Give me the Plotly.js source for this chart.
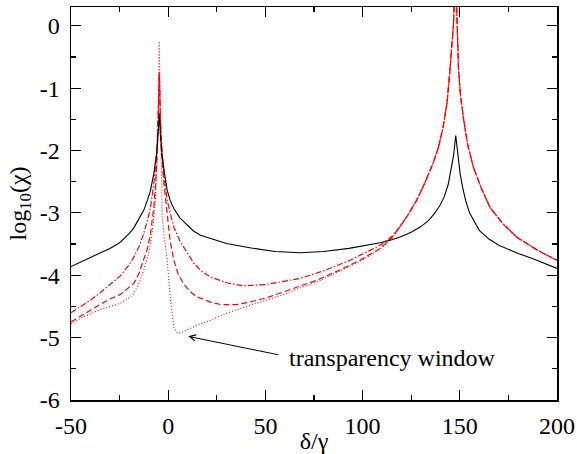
<!DOCTYPE html>
<html>
<head>
<meta charset="utf-8">
<script src="https://cdn.plot.ly/plotly-3.0.1.min.js"></script>
<style>html,body{margin:0;padding:0;background:#fff;}#chart{width:577px;height:454px;}</style>
</head>
<body>
<div id="chart"></div>
<script>
// Black solid curve
var blackX = [-50,-45,-40,-35,-30,-25,-20,-17.7,-15,-12.6,-10.5,-9.1,-7.4,-6,-5.2,-4.6,-4,-3.2,-2,-0.5,1,2.9,6,9.8,13,16.6,21.8,30,42,55,68,80,93,100,109,115,120,125,130,134,137,140,142,144,145.5,146.8,147.9,149,150.2,151.5,153,155,160,165,170,180,188,200];
var blackY = [-3.86,-3.79,-3.72,-3.65,-3.57,-3.48,-3.33,-3.24,-3.1,-2.96,-2.78,-2.64,-2.37,-2.05,-1.75,-1.41,-1.75,-2.05,-2.35,-2.64,-2.8,-2.93,-3.08,-3.2,-3.29,-3.36,-3.41,-3.49,-3.56,-3.62,-3.64,-3.62,-3.57,-3.53,-3.48,-3.43,-3.38,-3.31,-3.22,-3.12,-3.01,-2.87,-2.74,-2.55,-2.32,-2.08,-1.76,-2.08,-2.38,-2.6,-2.8,-3.0,-3.28,-3.42,-3.52,-3.65,-3.74,-3.89];

// Shared tail of the three red curves (second resonance)
var redTailX = [119,123,127.8,132,136.2,139,141.4,143.5,145,146,146.7,147.2,147.8,148.3,148.8,149.3,150.3,151.8,154,157,161,165.5,172,179.3,190,200];
var redTailY = [-3.23,-3.05,-2.8,-2.52,-2.21,-1.95,-1.63,-1.22,-0.7,-0.35,0.0,0.4,0.9,0.4,-0.15,-0.67,-1.1,-1.47,-1.9,-2.27,-2.6,-2.91,-3.17,-3.39,-3.6,-3.76];

// Red dash-dot curve
var dashDotX = [-50,-45,-40,-35,-30,-24.6,-20,-17.7,-15,-12.6,-10.5,-9.1,-7.4,-6,-5.2,-4.6,-4,-3,-1.8,-0.5,1,2.9,6,9.8,13,16.6,21.8,30,38.6,50,60,68,80,93.5,100,109,115];
var dashDotY = [-4.6,-4.5,-4.4,-4.28,-4.15,-4.01,-3.83,-3.71,-3.54,-3.33,-3.1,-2.91,-2.53,-2.1,-1.5,-0.76,-1.5,-2.1,-2.5,-2.8,-3.0,-3.23,-3.45,-3.65,-3.8,-3.92,-4.03,-4.12,-4.17,-4.15,-4.1,-4.05,-3.93,-3.76,-3.66,-3.52,-3.38];

// Red dashed curve
var dashedX = [-50,-45,-40,-35,-30,-24.6,-20,-17.7,-15,-12.6,-10.5,-9.1,-7.4,-6.4,-5.6,-5.1,-4.6,-4.1,-3.6,-2.2,-0.5,1,2.9,5,8.1,12,15,21.8,27,35,42,50.7,60,68,76.4,88,98.6,104,109,115];
var dashedY = [-4.75,-4.65,-4.56,-4.47,-4.38,-4.31,-4.2,-4.13,-3.97,-3.76,-3.55,-3.33,-2.91,-2.5,-2.0,-1.4,-0.75,-1.4,-2.0,-2.53,-3.07,-3.45,-3.76,-3.97,-4.15,-4.28,-4.35,-4.43,-4.47,-4.47,-4.43,-4.36,-4.26,-4.17,-4.08,-3.92,-3.76,-3.66,-3.57,-3.4];

// Red dotted curve
var dottedX = [-50,-45,-40,-35,-30,-24.6,-20,-17.7,-15,-12.6,-10.5,-9.1,-7.8,-6.6,-5.8,-5.2,-4.6,-4.0,-3.1,-1.8,-0.5,1.2,2.9,4.2,5.5,8,12,16.6,21.8,30,42,50.7,60,68,76.4,88,98.6,105,109,115];
var dottedY = [-4.78,-4.69,-4.62,-4.55,-4.5,-4.45,-4.36,-4.29,-4.13,-3.92,-3.7,-3.49,-3.2,-2.8,-2.2,-1.5,-0.25,-1.7,-3.07,-3.45,-3.76,-4.4,-4.83,-4.91,-4.93,-4.9,-4.84,-4.78,-4.72,-4.61,-4.48,-4.4,-4.3,-4.2,-4.11,-3.94,-3.78,-3.66,-3.58,-3.42];

// Tick labels
var xTickVals = [-50,0,50,100,150,200];
var xTickText = ['-50','0','50','100','150','200'];
var yTickVals = [0,-1,-2,-3,-4,-5,-6];
var yTickText = ['0','-1','-2','-3','-4','-5','-6'];

// Annotation
var annotText = 'transparency window';
var annotPoint = [10.3, -4.98];
var annotTail = [57.5, -5.28];
var annotTextPos = [61, -5.33];

var serif = 'Liberation Serif, Times New Roman, serif';

var traces = [
  {x: dottedX.concat(redTailX), y: dottedY.concat(redTailY), mode:'lines',
   line:{color:'#ff0000', width:1.1, dash:'1px,2px'}},
  {x: dashedX.concat(redTailX), y: dashedY.concat(redTailY), mode:'lines',
   line:{color:'#ff0000', width:1.2, dash:'6px,3px'}},
  {x: dashDotX.concat(redTailX), y: dashDotY.concat(redTailY), mode:'lines',
   line:{color:'#ff0000', width:1.2, dash:'6px,2px,1.5px,2px'}},
  {x: blackX, y: blackY, mode:'lines', line:{color:'#000000', width:1.1}}
];

var axisCommon = {
  showgrid:false, zeroline:false, showline:true, linecolor:'#000', linewidth:1.5,
  mirror:'ticks', ticks:'inside', ticklen:10, tickwidth:1.2, tickcolor:'#000',
  tickfont:{family:serif, size:24, color:'#000'}, tickmode:'array'
};

var layout = {
  width:577, height:454,
  margin:{l:71, r:20, t:7, b:54},
  paper_bgcolor:'#fff', plot_bgcolor:'#fff',
  showlegend:false,
  xaxis: Object.assign({}, axisCommon, {
    range:[-50,200], tickvals:xTickVals, ticktext:xTickText,
    ticklabelstandoff:4,
    minor:{ticks:'inside', ticklen:5, tickwidth:1.2, tickcolor:'#000', dtick:25, tick0:-50, showgrid:false},
    title:{text:'δ/γ', font:{family:serif, size:24, color:'#000'}, standoff:2}
  }),
  yaxis: Object.assign({}, axisCommon, {
    range:[-6,0.3], tickvals:yTickVals, ticktext:yTickText,
    ticklabelstandoff:5,
    minor:{ticks:'inside', ticklen:5, tickwidth:1.2, tickcolor:'#000', dtick:0.5, tick0:0, showgrid:false},
    title:{text:'log<sub>10</sub>(χ)', font:{family:serif, size:24, color:'#000'}, standoff:6}
  }),
  annotations:[
    {x:annotPoint[0], y:annotPoint[1], ax:annotTail[0], ay:annotTail[1], axref:'x', ayref:'y',
     xref:'x', yref:'y', text:'', showarrow:true, arrowhead:5, arrowsize:1.2, arrowwidth:1, arrowcolor:'#000'},
    {x:annotTextPos[0], y:annotTextPos[1], xref:'x', yref:'y', text:annotText, showarrow:false,
     xanchor:'left', yanchor:'middle', font:{family:serif, size:24, color:'#000'}}
  ]
};

Plotly.newPlot('chart', traces, layout, {staticPlot:true, displayModeBar:false});
</script>
</body>
</html>
